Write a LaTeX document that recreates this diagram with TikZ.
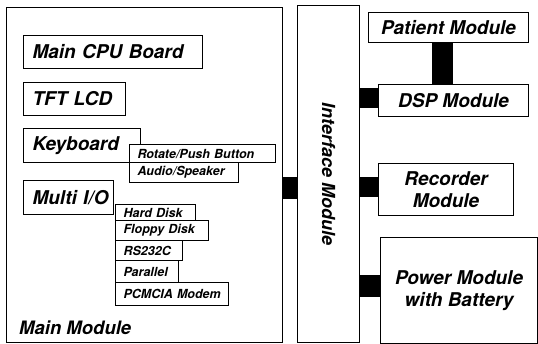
\documentclass[tikz,border=0pt]{standalone}
\usepackage{fontspec}
\setmainfont{TeX Gyre Heros}
\usetikzlibrary{calc}
\begin{document}
\begin{tikzpicture}[x=1pt,y=-1pt,
  frame/.style={draw=black,line width=1.1pt,fill=white,rectangle,inner sep=0pt,anchor=north west},
  bigbox/.style={frame,font=\fontsize{19}{22}\selectfont\bfseries\itshape,inner xsep=9pt,align=left},
  smallbox/.style={frame,font=\fontsize{12.5}{14}\selectfont\bfseries\itshape,inner xsep=8pt,align=left},
  modbox/.style={frame,font=\fontsize{19}{22}\selectfont\bfseries\itshape,align=center},
  bus/.style={fill=black}]
\useasboundingbox (0,0) rectangle (538,344);

% main module frame and its label
\node[frame,minimum width=276pt,minimum height=335pt] (main) at (6,7) {};
\node[anchor=base west,inner sep=0pt,font=\fontsize{18.5}{22}\selectfont\bfseries\itshape] (mainlbl) at (19,335) {Main Module};

% boards inside the main module
\node[bigbox,text width=161pt,minimum height=33pt] (cpu) at (23,35) {\mbox{Main CPU Board}};
\node[bigbox,text width=84pt,minimum height=33pt] (lcd) at (23,82) {\mbox{TFT LCD}};
\node[bigbox,text width=99pt,minimum height=34pt] (kbd) at (23,128) {\mbox{Keyboard}};
\node[smallbox,text width=130pt,minimum height=18pt] (rot) at (129,144) {\mbox{Rotate/Push Button}};
\node[smallbox,text width=93pt,minimum height=20pt] (aud) at (129,162) {\mbox{Audio/Speaker}};
\node[bigbox,text width=72pt,minimum height=34pt] (mio) at (23,180) {\mbox{Multi I/O}};
\node[smallbox,text width=64pt,minimum height=16pt] (hdd) at (115,204) {\mbox{Hard Disk}};
\node[smallbox,text width=77pt,minimum height=20pt] (fdd) at (115,220) {\mbox{Floppy Disk}};
\node[smallbox,text width=51pt,minimum height=20pt] (rs) at (115,240) {\mbox{RS232C}};
\node[smallbox,text width=47pt,minimum height=22pt] (par) at (115,260) {\mbox{Parallel}};
\node[smallbox,text width=97pt,minimum height=23pt] (pcm) at (115,282) {\mbox{PCMCIA Modem}};

% interface module
\node[frame,minimum width=62pt,minimum height=337pt] (iface) at (297,5) {};
\node[rotate=-90,inner sep=0pt,font=\fontsize{18}{22}\selectfont\bfseries\itshape] (ifacelbl) at (iface.center) {Interface Module};

% external modules
\node[modbox,minimum width=160pt,minimum height=30pt] (pat) at (368,12) {Patient Module};
\node[modbox,minimum width=150pt,minimum height=32pt] (dsp) at (378,84) {DSP Module};
\node[modbox,minimum width=135pt,minimum height=52pt] (rec) at (378,163) {Recorder\\Module};
\node[modbox,minimum width=157pt,minimum height=106pt] (pwr) at (380,237) {Power Module\\with Battery};

% bus connectors
\path[bus] (main.east |- 0,177) rectangle (iface.west |- 0,199);
\path[bus] ($(pat.south)+(-17,0)$) rectangle ($(dsp.north)+(-1,0)$);
\path[bus] (iface.east |- 0,88) rectangle (dsp.west |- 0,108);
\path[bus] (iface.east |- 0,177) rectangle (rec.west |- 0,197);
\path[bus] (iface.east |- 0,275) rectangle (pwr.west |- 0,297);
\end{tikzpicture}
\end{document}
